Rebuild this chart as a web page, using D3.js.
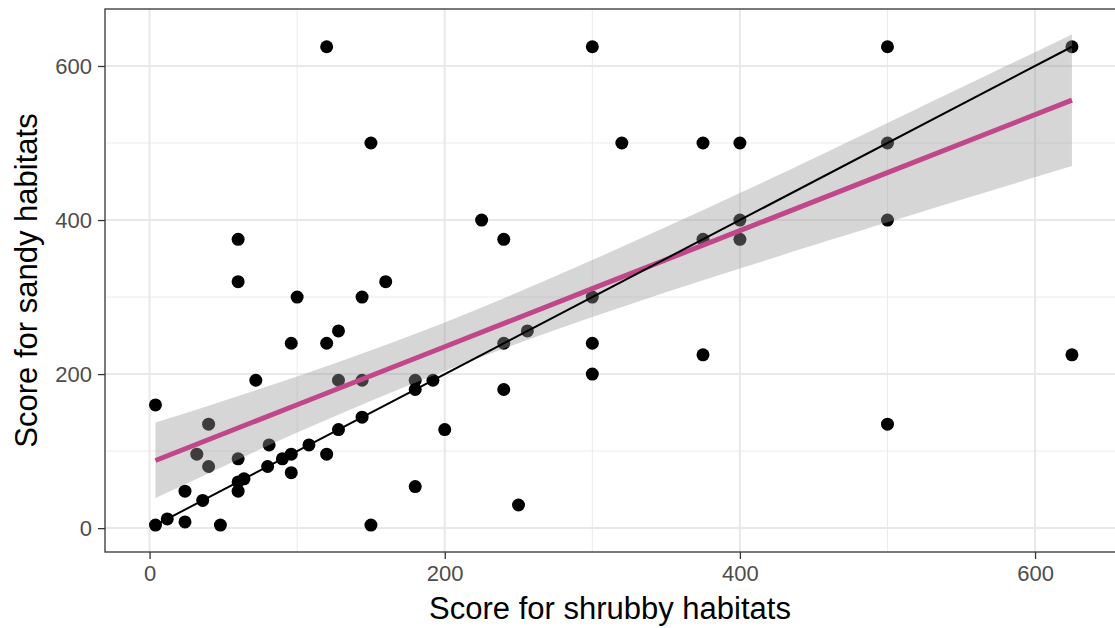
<!DOCTYPE html>
<html>
<head>
<meta charset="utf-8">
<script src="https://cdn.jsdelivr.net/npm/d3@7"></script>
<style>
    html, body { margin: 0; padding: 0; background: #fff; }
    svg { display: block; font-family: "Liberation Sans", Arial, sans-serif; }
</style>
</head>
<body>
<svg id="chart" width="1115" height="628"></svg>
<script>

// scores
const shrubbyScores = [120, 150, 60, 60, 160, 100, 144, 96, 120, 128,
    72, 128, 144, 180, 192, 180, 200, 4, 40, 32,
    40, 60, 81, 96, 90, 108, 120, 128, 144, 80,
    96, 60, 64, 60, 24, 36, 12, 4, 24, 48, 150, 180,
    300, 320, 375, 400, 225, 240, 375, 400, 400,
    300, 256, 240, 300, 300, 375, 240, 250,
    500, 625, 500, 500, 625, 500];
const sandyScores = [625, 500, 375, 320, 320, 300, 300, 240, 240, 256,
    192, 192, 192, 192, 192, 180, 128, 160, 135, 96,
    80, 90, 108, 96, 90, 108, 96, 128, 144, 80,
    72, 60, 64, 48, 48, 36, 12, 4, 8, 4, 4, 54,
    625, 500, 500, 500, 400, 375, 375, 400, 375,
    300, 256, 240, 240, 200, 225, 180, 30,
    625, 625, 500, 400, 225, 135];

// lm fit and 95% band
const fitX = [4, 100, 200, 300, 400, 500, 625];
const fitY = [87.8, 160.2, 235.5, 310.9, 386.2, 461.6, 555.7];
const bandLow = [39, 124, 204, 274, 337, 397, 470];
const bandHigh = [137, 197, 267, 348, 435, 526, 641];

const xTicks = [0, 200, 400, 600];
const yTicks = [0, 200, 400, 600];
const minorTicks = [100, 300, 500];

(function () {

    const points = shrubbyScores.map((x, i) => ({ x: x, y: sandyScores[i] }));
    const band = fitX.map((x, i) => ({ x: x, fit: fitY[i], lo: bandLow[i], hi: bandHigh[i] }));

    const panel = { left: 105, right: 1118, top: 9, bottom: 552 };

    const x = d3.scaleLinear().domain([-30.2, 656.2]).range([panel.left, panel.right]);
    const y = d3.scaleLinear().domain([-31, 674]).range([panel.bottom, panel.top]);

    const svg = d3.select('#chart');

    svg.append('clipPath').attr('id', 'panel-clip')
        .append('rect')
        .attr('x', panel.left).attr('y', panel.top)
        .attr('width', panel.right - panel.left).attr('height', panel.bottom - panel.top);

    const plot = svg.append('g').attr('clip-path', 'url(#panel-clip)');

    // grid
    const gridV = (vals, w, col) => plot.append('g').selectAll('line')
        .data(vals).join('line')
        .attr('x1', d => x(d)).attr('x2', d => x(d))
        .attr('y1', panel.top).attr('y2', panel.bottom)
        .attr('stroke', col).attr('stroke-width', w);
    const gridH = (vals, w, col) => plot.append('g').selectAll('line')
        .data(vals).join('line')
        .attr('y1', d => y(d)).attr('y2', d => y(d))
        .attr('x1', panel.left).attr('x2', panel.right)
        .attr('stroke', col).attr('stroke-width', w);

    gridV(minorTicks, 1, '#ebebeb');
    gridH(minorTicks, 1, '#ebebeb');
    gridV(xTicks, 2, '#e8e8e8');
    gridH(yTicks, 2, '#e8e8e8');

    // points
    plot.append('g').selectAll('circle')
        .data(points).join('circle')
        .attr('cx', d => x(d.x))
        .attr('cy', d => y(d.y))
        .attr('r', 6.5)
        .attr('fill', '#000');

    // ribbon + fitted line
    plot.append('path')
        .datum(band)
        .attr('d', d3.area().curve(d3.curveNatural).x(d => x(d.x)).y0(d => y(d.lo)).y1(d => y(d.hi)))
        .attr('fill', '#999999')
        .attr('fill-opacity', 0.4);

    plot.append('path')
        .datum(band)
        .attr('d', d3.line().x(d => x(d.x)).y(d => y(d.fit)))
        .attr('fill', 'none')
        .attr('stroke', '#c1478b')
        .attr('stroke-width', 5);

    // 1:1 line
    const ext = d3.extent(shrubbyScores);
    plot.append('line')
        .attr('x1', x(ext[0])).attr('y1', y(ext[0]))
        .attr('x2', x(ext[1])).attr('y2', y(ext[1]))
        .attr('stroke', '#000')
        .attr('stroke-width', 2);

    // border
    svg.append('rect')
        .attr('x', panel.left).attr('y', panel.top)
        .attr('width', panel.right - panel.left).attr('height', panel.bottom - panel.top)
        .attr('fill', 'none')
        .attr('stroke', '#333')
        .attr('stroke-width', 1.3);

    // axes
    const xAxis = svg.append('g')
        .attr('transform', `translate(0,${panel.bottom})`)
        .call(d3.axisBottom(x).tickValues(xTicks).tickSize(7).tickPadding(6));
    const yAxis = svg.append('g')
        .attr('transform', `translate(${panel.left},0)`)
        .call(d3.axisLeft(y).tickValues(yTicks).tickSize(7).tickPadding(6));

    [xAxis, yAxis].forEach(a => {
        a.select('.domain').remove();
        a.selectAll('.tick line').attr('stroke', '#333').attr('stroke-width', 1.3);
        a.selectAll('.tick text')
            .attr('fill', '#4d4d4d')
            .style('font-size', '22px')
            .style('font-family', '"Liberation Sans", Arial, sans-serif');
    });

    svg.append('text')
        .attr('x', 610)
        .attr('y', 619)
        .attr('text-anchor', 'middle')
        .style('font-size', '31px')
        .attr('fill', '#000')
        .text('Score for shrubby habitats');

    svg.append('text')
        .attr('transform', `translate(37,${(panel.top + panel.bottom) / 2}) rotate(-90)`)
        .attr('text-anchor', 'middle')
        .style('font-size', '31px')
        .attr('fill', '#000')
        .text('Score for sandy habitats');

})();
</script>
</body>
</html>
